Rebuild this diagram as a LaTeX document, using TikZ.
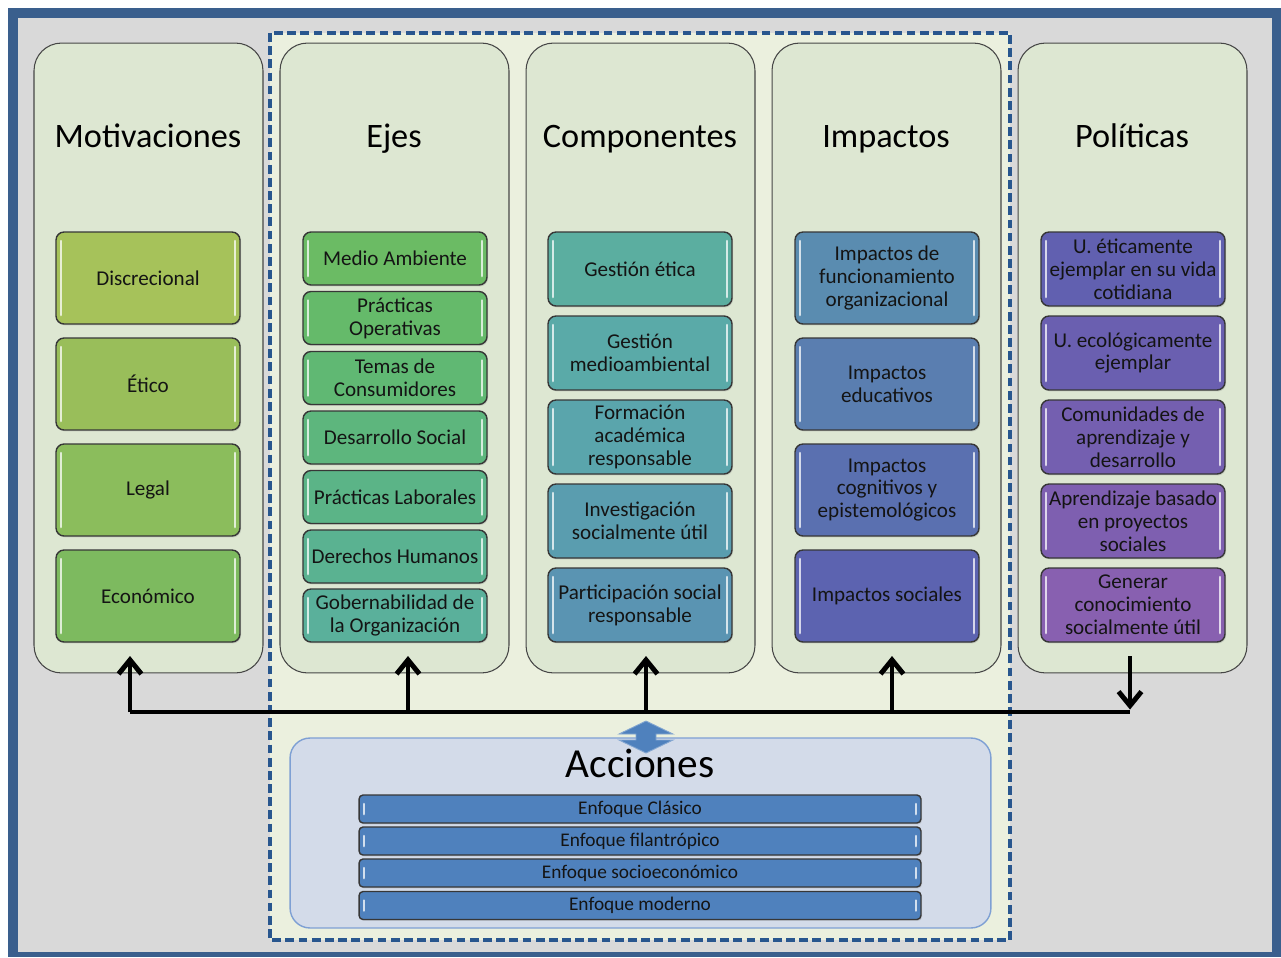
\documentclass[tikz,border=0pt]{standalone}
\usepackage{fontspec}
\setmainfont{Carlito}
\usetikzlibrary{arrows.meta,shadows}
\definecolor{frameblue}{RGB}{58,95,141}
\definecolor{bggray}{RGB}{217,217,217}
\definecolor{dashfill}{RGB}{235,240,222}
\definecolor{dashblue}{RGB}{40,86,142}
\definecolor{panelfill}{RGB}{221,231,210}
\definecolor{panelborder}{RGB}{70,70,70}
\definecolor{boxborder}{RGB}{55,55,55}
\definecolor{textdark}{RGB}{20,20,20}
\definecolor{accfill}{RGB}{211,219,233}
\definecolor{accborder}{RGB}{126,160,212}
\definecolor{accblue}{RGB}{79,129,189}
\definecolor{mot1}{RGB}{166,194,90}
\definecolor{mot2}{RGB}{153,190,90}
\definecolor{mot3}{RGB}{139,189,92}
\definecolor{mot4}{RGB}{125,186,95}
\definecolor{eje1}{RGB}{107,187,100}
\definecolor{eje2}{RGB}{101,186,106}
\definecolor{eje3}{RGB}{96,184,115}
\definecolor{eje4}{RGB}{93,182,125}
\definecolor{eje5}{RGB}{91,180,135}
\definecolor{eje6}{RGB}{90,178,145}
\definecolor{eje7}{RGB}{90,176,155}
\definecolor{com1}{RGB}{91,174,160}
\definecolor{com2}{RGB}{90,170,168}
\definecolor{com3}{RGB}{90,165,172}
\definecolor{com4}{RGB}{90,157,175}
\definecolor{com5}{RGB}{90,148,178}
\definecolor{imp1}{RGB}{90,140,176}
\definecolor{imp2}{RGB}{90,126,176}
\definecolor{imp3}{RGB}{90,112,176}
\definecolor{imp4}{RGB}{92,99,176}
\definecolor{pol1}{RGB}{97,96,176}
\definecolor{pol2}{RGB}{106,95,176}
\definecolor{pol3}{RGB}{116,95,176}
\definecolor{pol4}{RGB}{126,95,176}
\definecolor{pol5}{RGB}{136,96,176}
\begin{document}
\begin{tikzpicture}[x=0.02cm,y=-0.02cm,
  panel/.style={draw=panelborder, line width=0.6pt, fill=panelfill, rounded corners=0.55cm,
    minimum width=4.58cm, minimum height=12.6cm, inner sep=0pt},
  coltitle/.style={font=\fontsize{19.5}{22}\selectfont, text=black, anchor=base, inner sep=0pt},
  hl/.style={path picture={
    \draw[white, opacity=0.75, line width=1.2pt, line cap=round]
      ([xshift=3pt,yshift=-5pt]path picture bounding box.north west) --
      ([xshift=3pt,yshift=5pt]path picture bounding box.south west);
    \draw[white, opacity=0.75, line width=1.2pt, line cap=round]
      ([xshift=-3pt,yshift=-5pt]path picture bounding box.north east) --
      ([xshift=-3pt,yshift=5pt]path picture bounding box.south east);}},
  box/.style={draw=boxborder, line width=0.8pt, rounded corners=0.16cm, fill=#1,
    minimum width=3.68cm, inner sep=0pt, align=center,
    font=\fontsize{12}{13}\selectfont, text=textdark,
    drop shadow={opacity=0.25, shadow xshift=0.6pt, shadow yshift=-0.8pt}, hl},
  mbox/.style={box=#1, minimum height=1.84cm},
  ebox/.style={box=#1, minimum height=1.06cm},
  cbox/.style={box=#1, minimum height=1.48cm},
  abar/.style={box=accblue, minimum width=11.24cm, minimum height=0.56cm,
    rounded corners=0.08cm, font=\fontsize{11}{12}\selectfont},
  bus/.style={line width=2.8pt, black},
  busarrow/.style={bus, -{Straight Barb[length=8pt,width=13pt]}}
]
\useasboundingbox (0,0) rectangle (1281,957);
% frame
\fill[frameblue] (8,8) rectangle (1281,957);
\fill[bggray] (18,18) rectangle (1272,952);
% dashed region fill
\fill[dashfill] (270,33) rectangle (1010,940);
% panels
\node[panel] (pm) at (148.5,358) {};
\node[panel] (pe) at (394.5,358) {};
\node[panel] (pc) at (640.5,358) {};
\node[panel] (pi) at (886.5,358) {};
\node[panel] (pp) at (1132.5,358) {};
\draw[dashblue, line width=2pt, dash pattern=on 5pt off 2.5pt] (270,33) rectangle (1010,940);
% titles
\node[coltitle] (tm) at (148,147) {Motivaciones};
\node[coltitle] (te) at (394,147) {Ejes};
\node[coltitle] (tc) at (640,147) {Componentes};
\node[coltitle] (ti) at (886,147) {Impactos};
\node[coltitle] (tp) at (1132,147) {Políticas};
% Motivaciones
\node[mbox=mot1] (m1) at (148,278) {Discrecional};
\node[mbox=mot2] (m2) at (148,384) {Ético};
\node[mbox=mot3] (m3) at (148,490) {Legal};
\node[mbox=mot4] (m4) at (148,596) {Económico};
% Ejes
\node[ebox=eje1] (e1) at (395,258.5) {Medio Ambiente};
\node[ebox=eje2] (e2) at (395,318) {Prácticas\\Operativas};
\node[ebox=eje3] (e3) at (395,378) {Temas de\\Consumidores};
\node[ebox=eje4] (e4) at (395,437.5) {Desarrollo Social};
\node[ebox=eje5] (e5) at (395,497) {Prácticas Laborales};
\node[ebox=eje6] (e6) at (395,556.5) {Derechos Humanos};
\node[ebox=eje7] (e7) at (395,615.5) {Gobernabilidad de\\la Organización};
% Componentes
\node[cbox=com1] (c1) at (640,269) {Gestión ética};
\node[cbox=com2] (c2) at (640,353) {Gestión\\medioambiental};
\node[cbox=com3] (c3) at (640,437) {Formación\\académica\\responsable};
\node[cbox=com4] (c4) at (640,521) {Investigación\\socialmente útil};
\node[cbox=com5] (c5) at (640,605) {Participación social\\responsable};
% Impactos
\node[mbox=imp1] (i1) at (887,278) {Impactos de\\funcionamiento\\organizacional};
\node[mbox=imp2] (i2) at (887,384) {Impactos\\educativos};
\node[mbox=imp3] (i3) at (887,490) {Impactos\\cognitivos y\\epistemológicos};
\node[mbox=imp4] (i4) at (887,596) {Impactos sociales};
% Politicas
\node[cbox=pol1] (p1) at (1133,269) {U. éticamente\\ejemplar en su vida\\cotidiana};
\node[cbox=pol2] (p2) at (1133,353) {U. ecológicamente\\ejemplar};
\node[cbox=pol3] (p3) at (1133,437) {Comunidades de\\aprendizaje y\\desarrollo};
\node[cbox=pol4] (p4) at (1133,521) {Aprendizaje basado\\en proyectos\\sociales};
\node[cbox=pol5] (p5) at (1133,605) {Generar\\conocimiento\\socialmente útil};
% Acciones
\node[draw=accborder, line width=0.8pt, fill=accfill, rounded corners=0.4cm,
  minimum width=14.02cm, minimum height=3.8cm, inner sep=0pt] (acc) at (640.5,833) {};
\node[coltitle, font=\fontsize{23.5}{26}\selectfont] (tacc) at (640,777) {Acciones};
\node[abar] (a1) at (640,809) {Enfoque Clásico};
\node[abar] (a2) at (640,841) {Enfoque filantrópico};
\node[abar] (a3) at (640,873) {Enfoque socioeconómico};
\node[abar] (a4) at (640,905.5) {Enfoque moderno};
% bus
\coordinate (b1) at (130,712);
\coordinate (b2) at (408,712);
\coordinate (b3) at (646,712);
\coordinate (b4) at (892,712);
\coordinate (b5) at (1130,712);
\coordinate (u1) at (130,656);
\coordinate (u2) at (408,656);
\coordinate (u3) at (646,656);
\coordinate (u4) at (892,656);
\coordinate (u5) at (1130,656);
\draw[bus] (b1) -- (b5);
\draw[busarrow] (b1) -- (u1);
\draw[busarrow] (b2) -- (u2);
\draw[busarrow] (b3) -- (u3);
\draw[busarrow] (b4) -- (u4);
\draw[busarrow] (u5) -- ([yshift=1.4pt]b5);
% double arrow
\filldraw[fill=accblue, draw=accblue!70!white, line width=0.5pt]
  (646,721) -- (673,734) -- (656,734) -- (656,740) -- (673,740) -- (646,753)
  -- (619,740) -- (636,740) -- (636,734) -- (619,734) -- cycle;
\end{tikzpicture}
\end{document}
